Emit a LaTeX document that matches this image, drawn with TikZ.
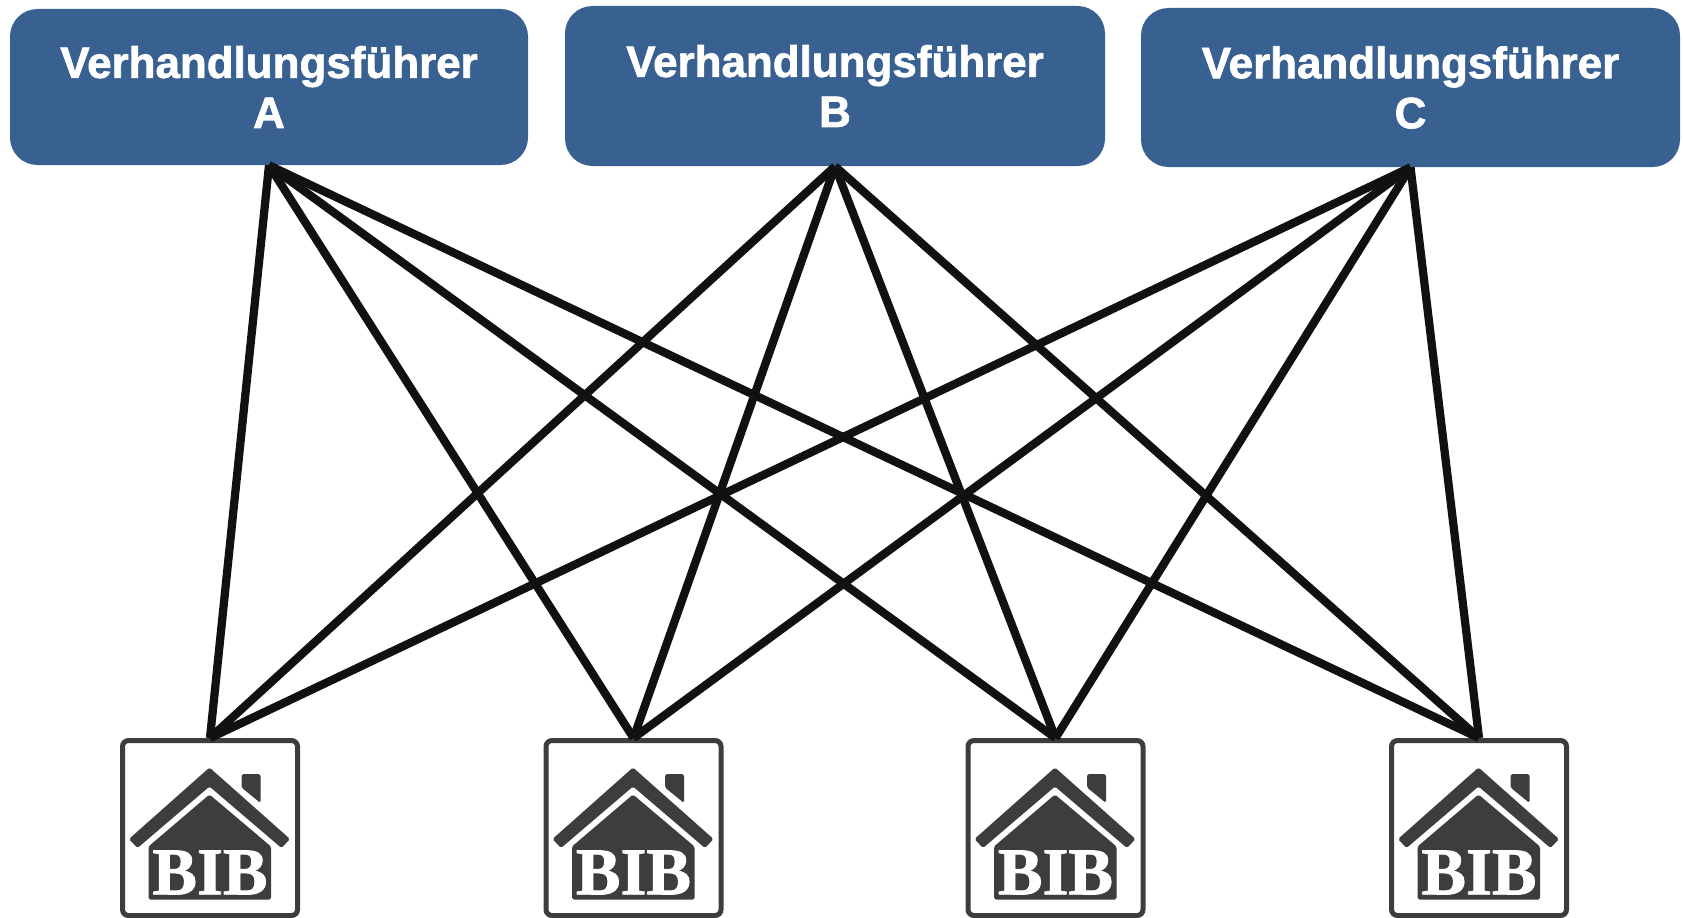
\documentclass[tikz,border=0pt]{standalone}
\usepackage{fontspec}
\setmainfont{Liberation Sans}
\newfontfamily\heavyfont[BoldFeatures={FakeBold=1.6}]{Liberation Sans}
\newfontfamily\stampfont[BoldFeatures={FakeBold=1.2}]{Liberation Serif}
\usetikzlibrary{positioning}

\definecolor{leaderblue}{HTML}{386192}
\definecolor{housegray}{HTML}{3D3D3D}
\definecolor{wireblack}{HTML}{111111}

% house tile: frame, roof, chimney, body and lettering
\newcommand{\bibhouse}[2]{
  \node[housebox] (#1) at (#2) {};
  \begin{scope}[shift={(#2)}]
    \fill[housegray, rounded corners=1pt] (-0.01,1.21) -- (1.6,-0.22) -- (1.43,-0.40) -- (-0.01,0.83) -- (-1.45,-0.40) -- (-1.62,-0.22) -- cycle;
    \fill[housegray, rounded corners=1pt] (0.63,0.81) -- (0.63,1.08) -- (1.01,1.08) -- (1.01,0.5) -- cycle;
    \fill[housegray, rounded corners=1pt] (-0.01,0.67) -- (1.22,-0.37) -- (1.22,-1.43) -- (-1.23,-1.43) -- (-1.23,-0.37) -- cycle;
    \node[stamp] (#1text) at (0,-0.89) {BIB};
  \end{scope}
}

\begin{document}
\begin{tikzpicture}[
    leader/.style={rectangle, rounded corners=0.55cm, fill=leaderblue, text=white, align=center, inner sep=0pt, font=\fontsize{25}{28.5}\heavyfont\bfseries},
    housebox/.style={rectangle, draw=housegray, fill=white, line width=0.1cm, rounded corners=0.12cm, minimum size=3.5cm, inner sep=0pt},
    stamp/.style={text=white, inner sep=0pt, font=\fontsize{38}{38}\stampfont\bfseries},
    wire/.style={draw=wireblack, line width=0.165cm}
]
\useasboundingbox (0,0) rectangle (33.66,-18.36);

% Negotiators
\node[leader, minimum width=10.36cm, minimum height=3.12cm] (leaderA) at (5.38,-1.74) {Verhandlungsführer\\A};
\node[leader, minimum width=10.8cm, minimum height=3.2cm] (leaderB) at (16.70,-1.72) {Verhandlungsführer\\B};
\node[leader, minimum width=10.78cm, minimum height=3.18cm] (leaderC) at (28.21,-1.75) {Verhandlungsführer\\C};

% Banks
\bibhouse{house1}{4.2,-16.56}
\bibhouse{house2}{12.67,-16.56}
\bibhouse{house3}{21.11,-16.56}
\bibhouse{house4}{29.58,-16.56}

% Connections
\draw[wire] (leaderA.south) -- (house1.north);
\draw[wire] (leaderA.south) -- (house2.north);
\draw[wire] (leaderA.south) -- (house3.north);
\draw[wire] (leaderA.south) -- (house4.north);
\draw[wire] (leaderB.south) -- (house1.north);
\draw[wire] (leaderB.south) -- (house2.north);
\draw[wire] (leaderB.south) -- (house3.north);
\draw[wire] (leaderB.south) -- (house4.north);
\draw[wire] (leaderC.south) -- (house1.north);
\draw[wire] (leaderC.south) -- (house2.north);
\draw[wire] (leaderC.south) -- (house3.north);
\draw[wire] (leaderC.south) -- (house4.north);

\end{tikzpicture}
\end{document}
